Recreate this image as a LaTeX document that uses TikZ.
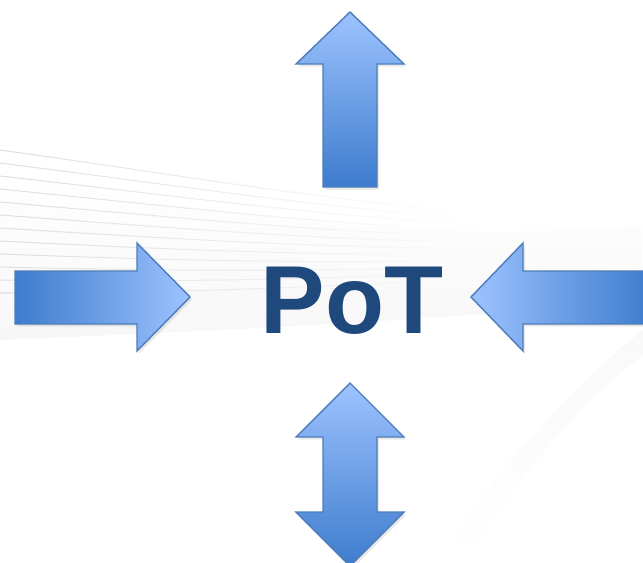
\documentclass[tikz,border=0pt]{standalone}
\usepackage{fontspec}
\setmainfont{Liberation Sans}
\usetikzlibrary{shadows,fadings}
\definecolor{arrowlight}{RGB}{157,195,255}
\definecolor{arrowdark}{RGB}{62,124,205}
\definecolor{arrowline}{RGB}{76,125,186}
\definecolor{potblue}{RGB}{31,73,125}
\tikzstyle{blockarrow} = [draw=arrowline,line width=0.8pt,line join=miter,drop shadow={opacity=0.18,shadow xshift=1.2pt,shadow yshift=-1.5pt}]
\tikzstyle{swoosh} = [gray!25,line width=0.6pt,path fading=east]
\tikzstyle{label} = [font=\fontsize{55}{60}\selectfont\bfseries,text=potblue,inner sep=0pt]

\begin{document}
\begin{tikzpicture}[x=0.02cm,y=-0.02cm]
	\useasboundingbox (0,0) rectangle (643,562);
	% faint background swooshes
	\fill[gray!6,path fading=north] (0,175) .. controls (220,215) and (430,245) .. (643,225) -- (643,300) .. controls (450,320) and (230,330) .. (0,340) -- cycle;
	\fill[gray!5,path fading=south] (643,330) .. controls (580,380) and (500,460) .. (440,562) -- (465,562) .. controls (520,470) and (590,395) .. (643,355) -- cycle;
	\foreach \d in {0,...,11}
		\draw[swoosh] (0,150+13*\d) .. controls (160,172+11*\d) and (320,200+8*\d) .. (470,212+6*\d);

	% up
	\path[blockarrow,top color=arrowlight,bottom color=arrowdark] (350,12) -- (404,64) -- (377,64) -- (377,187) -- (323,187) -- (323,64) -- (296,64) -- cycle;
	% from the left
	\path[blockarrow,left color=arrowdark,right color=arrowlight] (15,271) -- (137,271) -- (137,243) -- (190,297) -- (137,351) -- (137,324) -- (15,324) -- cycle;
	% from the right
	\path[blockarrow,left color=arrowlight,right color=arrowdark] (471,297) -- (523,243) -- (523,271) -- (650,271) -- (650,324) -- (523,324) -- (523,351) -- cycle;
	% up and down
	\path[blockarrow,top color=arrowlight,bottom color=arrowdark] (350,383) -- (404,437) -- (377,437) -- (377,512) -- (404,512) -- (350,566) -- (296,512) -- (323,512) -- (323,437) -- (296,437) -- cycle;

	\node[label,anchor=base] (pot) at (352,333) {PoT};
\end{tikzpicture}
\end{document}
